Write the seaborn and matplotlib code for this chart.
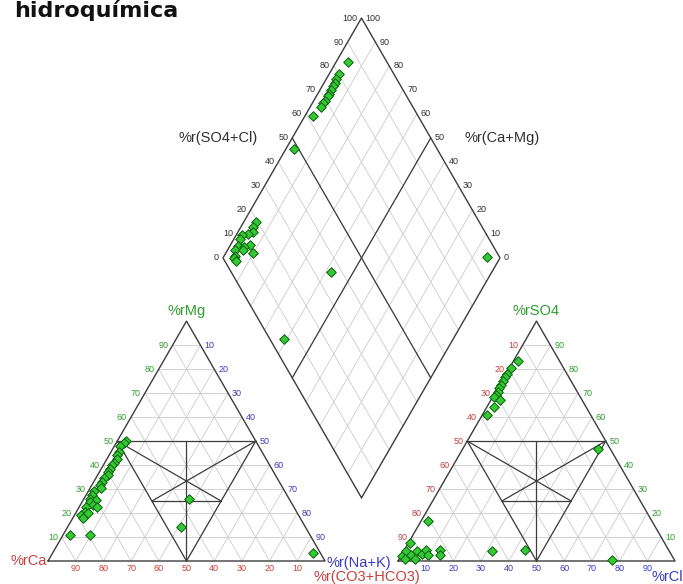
import numpy as np
import pandas as pd
import matplotlib
matplotlib.use("Agg")
import matplotlib.pyplot as plt
import seaborn as sns

# ---- cation triangle samples (% meq): Mg and Na+K (Ca is the remainder) ----
cat_mg = [50, 49, 48, 45.5, 44, 42.5, 41, 40, 38.5, 37, 36, 34.5, 33, 31.5,
          30.5, 29, 27.5, 26, 25.5, 24.5, 23.5, 22.5, 22.5, 20.5, 19, 18, 20,
          11, 11, 26, 14, 3.5]
cat_nak = [3, 3, 2, 3, 3, 3.5, 3.5, 3, 3, 3, 3.5, 3, 3, 3,
           4, 2, 2, 2, 4.5, 3, 4.5, 2.5, 6.5, 3, 2.5, 3.5, 4.5,
           2.5, 9.5, 38, 41, 94]

# ---- anion triangle samples (% meq): SO4 and Cl (CO3+HCO3 is the remainder) ----
an_so4 = [83.5, 80.5, 78, 76.5, 75, 73.5, 72, 70.5, 69, 68.5, 67, 64, 61,
          46.5, 16.5, 7.5, 2, 4, 2.5, 4, 3, 4.5, 2.5, 1, 1, 4.5, 2.5, 4, 4.5, 0.5]
an_cl = [1.5, 0.5, 0.5, 0.5, 0.5, 0.5, 0.5, 0.8, 0.8, 0.5, 3.5, 2.5, 1.5,
         49, 2.5, 0.5, 0.5, 1, 3.5, 5, 7, 8, 9.5, 2, 5.5, 13, 14, 32, 43.5, 77]

# ---- diamond samples (% meq): Ca+Mg and SO4+Cl ----
dia_camg = [95.5, 96.5, 96.5, 96, 96, 96, 96, 96, 96, 96, 96, 97, 97,
            95.5, 95.5, 94.5, 96, 98, 98, 93, 97, 94.5, 97.5, 94.5, 90,
            96, 96, 94.5, 58, 61, 5]
dia_so4cl = [86, 80, 78, 77, 75.5, 74, 72.5, 71.5, 69.5, 68.5, 67, 62, 48.5,
             19.5, 17.5, 16.5, 14, 11.5, 10, 12.5, 8, 10, 6, 9, 12,
             5, 4, 4, 36, 5, 95.5]

tick_vals = [10, 20, 30, 40, 50, 60, 70, 80, 90]
dia_ticks = [0, 10, 20, 30, 40, 50, 60, 70, 80, 90, 100]

RED = "#c8403c"
GREEN = "#2f9e2f"
BLUE = "#3a3ac4"
EDGE = "#3c3c3c"
GRID = "#cbcbcb"
H = np.sqrt(3) / 2
GAP = 0.2635
OX_L = 0.0
OX_R = 1.0 + GAP
BX, BY = 1.0 + GAP / 2, GAP * H   # bottom vertex of the diamond
PX = 1 / 277.0                    # one pixel in data units

sns.set_style("white")
plt.rcParams["font.family"] = ["Liberation Sans", "DejaVu Sans"]

fig = plt.figure(figsize=(6.83, 5.84), dpi=100)
ax = fig.add_axes([0, 0, 1, 1])


def tri_xy(ox, right, top):
    right = np.asarray(right) / 100.0
    top = np.asarray(top) / 100.0
    return ox + right + top / 2, top * H


def dia_xy(camg, so4cl):
    a = np.asarray(camg) / 100.0
    b = np.asarray(so4cl) / 100.0
    return BX + 0.5 * (b - a), BY + H * (a + b)


def seg(p, q, **kw):
    ax.plot([p[0], q[0]], [p[1], q[1]], **kw)


def draw_triangle(ox):
    for t in np.arange(1, 10) / 10:
        seg((ox + t / 2, t * H), (ox + 1 - t / 2, t * H), color=GRID, lw=0.6, zorder=1)
        seg((ox + t, 0), (ox + t + (1 - t) / 2, (1 - t) * H), color=GRID, lw=0.6, zorder=1)
        seg((ox + 1 - t, 0), (ox + (1 - t) / 2, (1 - t) * H), color=GRID, lw=0.6, zorder=1)
    ax.plot([ox, ox + 1, ox + 0.5, ox], [0, 0, H, 0], color=EDGE, lw=1.0, zorder=2)
    L = (ox + 0.25, 0.5 * H)
    R = (ox + 0.75, 0.5 * H)
    M = (ox + 0.5, 0.0)
    mLM = ((L[0] + M[0]) / 2, (L[1] + M[1]) / 2)
    mRM = ((R[0] + M[0]) / 2, (R[1] + M[1]) / 2)
    for p, q in [(L, R), (M, (ox + 0.5, 0.5 * H)), (L, M), (R, M),
                 (L, mRM), (R, mLM), (mLM, mRM)]:
        seg(p, q, color=EDGE, lw=0.9, zorder=2)


def draw_diamond():
    for t in np.arange(1, 10) / 10:
        xs, ys = dia_xy([t * 100, t * 100], [0, 100])
        ax.plot(xs, ys, color=GRID, lw=0.6, zorder=1)
        xs, ys = dia_xy([0, 100], [t * 100, t * 100])
        ax.plot(xs, ys, color=GRID, lw=0.6, zorder=1)
    xs, ys = dia_xy([0, 100, 100, 0, 0], [0, 0, 100, 100, 0])
    ax.plot(xs, ys, color=EDGE, lw=1.0, zorder=2)
    xs, ys = dia_xy([50, 50], [0, 100])
    ax.plot(xs, ys, color=EDGE, lw=0.9, zorder=2)
    xs, ys = dia_xy([0, 100], [50, 50])
    ax.plot(xs, ys, color=EDGE, lw=0.9, zorder=2)


draw_triangle(OX_L)
draw_triangle(OX_R)
draw_diamond()

tick_kw = dict(fontsize=6.5, zorder=3)
off = 4 * PX
for v in tick_vals:
    f = v / 100
    # cation triangle
    ax.text(OX_L + f / 2 - off, f * H, str(v), color=GREEN, ha="right", va="center", **tick_kw)
    ax.text(OX_L + f + (1 - f) / 2 + off, (1 - f) * H, str(v), color=BLUE, ha="left", va="center", **tick_kw)
    ax.text(OX_L + 1 - f, -8 * PX, str(v), color=RED, ha="center", va="center", **tick_kw)
    # anion triangle
    ax.text(OX_R + (1 - f) / 2 - off, (1 - f) * H, str(v), color=RED, ha="right", va="center", **tick_kw)
    ax.text(OX_R + (1 - f) + f / 2 + off, f * H, str(v), color=GREEN, ha="left", va="center", **tick_kw)
    ax.text(OX_R + f, -8 * PX, str(v), color=BLUE, ha="center", va="center", **tick_kw)

for v in dia_ticks:
    x, y = dia_xy(100, v)
    ax.text(x - off, y, str(v), color="#303030", ha="right", va="center", **tick_kw)
    x, y = dia_xy(v, 100)
    ax.text(x + off, y, str(v), color="#303030", ha="left", va="center", **tick_kw)

lab_kw = dict(fontsize=10.5, zorder=3)
ax.text(OX_L + 0.5, H + 10 * PX, "%rMg", color=GREEN, ha="center", va="center", **lab_kw)
ax.text(OX_L - 1 * PX, 0, "%rCa", color=RED, ha="right", va="center", **lab_kw)
ax.text(OX_L + 1 + 2 * PX, -2 * PX, "%r(Na+K)", color=BLUE, ha="left", va="center", **lab_kw)
ax.text(OX_R + 0.5, H + 10 * PX, "%rSO4", color=GREEN, ha="center", va="center", **lab_kw)
ax.text(OX_R - 31 * PX, -16 * PX, "%r(CO3+HCO3)", color=RED, ha="center", va="center", **lab_kw)
ax.text(OX_R + 1 - 23 * PX, -16 * PX, "%rCl", color=BLUE, ha="left", va="center", **lab_kw)
xl, yl = dia_xy(100, 50)
ax.text(xl - 34 * PX, yl, "%r(SO4+Cl)", color="#303030", ha="right", va="center", **lab_kw)
xr, yr = dia_xy(50, 100)
ax.text(xr + 34 * PX, yr, "%r(Ca+Mg)", color="#303030", ha="left", va="center", **lab_kw)

# sample points
cx, cy = tri_xy(OX_L, cat_nak, cat_mg)
axx, axy = tri_xy(OX_R, an_cl, an_so4)
dx, dy = dia_xy(dia_camg, dia_so4cl)
pts = pd.DataFrame({
    "x": np.concatenate([cx, axx, dx]),
    "y": np.concatenate([cy, axy, dy]),
})
sns.scatterplot(data=pts, x="x", y="y", ax=ax, marker="D", s=24,
                color="#34c934", edgecolor="#0b5e0b", linewidth=0.7, zorder=4)
ax.set_xlim(-48 * PX, (683 - 48) * PX)
ax.set_ylim((561 - 584) * PX, 561 * PX)
ax.set_aspect("equal")
ax.axis("off")

fig.text(178 / 683, 1 - 17 / 584, "hidroquímica", ha="right", va="baseline",
         fontsize=16, fontweight="bold", color="#111111",
         family=["DejaVu Sans"])

fig.savefig("out.png", dpi=100)
